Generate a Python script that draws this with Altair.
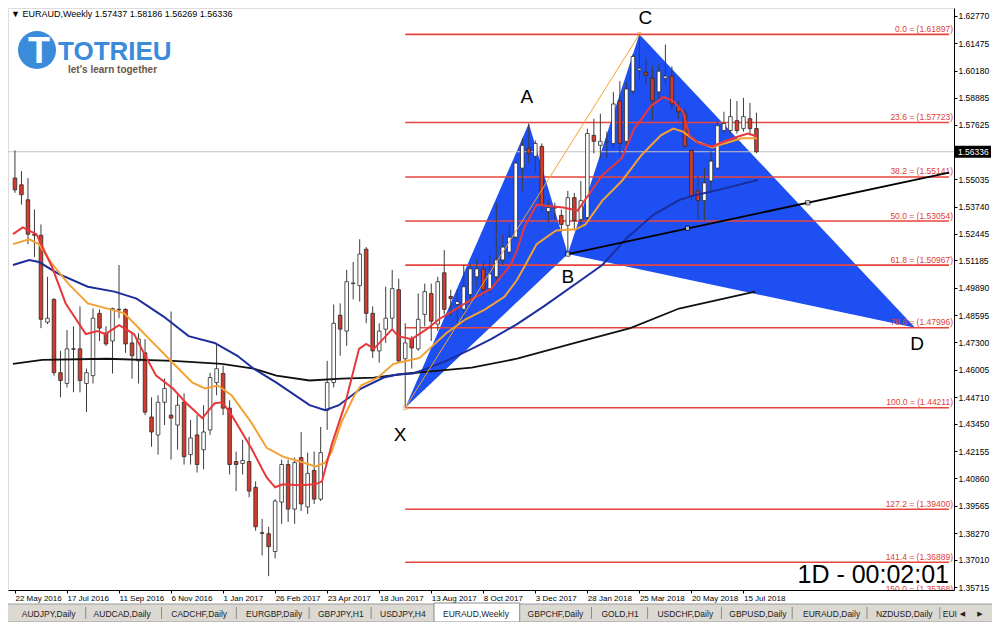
import altair as alt
import pandas as pd

# ------------------------------------------------------------------ data
opens = [1.5509,1.5477,1.5406,1.5243,1.5238,1.4826,1.4934,1.4587,1.4536,1.4700,
 1.4700,1.4536,1.4573,1.4868,1.4774,1.4737,1.4887,1.4887,1.4728,1.4643,
 1.4681,1.4377,1.4292,1.4447,1.4386,1.4339,1.4447,1.4199,1.4292,1.4222,
 1.4316,1.4540,1.4583,1.4419,1.4166,1.4157,1.4166,1.4044,1.3829,1.3824,
 1.3740,1.3974,1.4152,1.3941,1.4185,1.3951,1.4124,1.3988,1.4409,1.4540,
 1.4859,1.4784,1.5009,1.4999,1.5172,1.4868,1.4690,1.4793,1.4845,1.4980,
 1.4653,1.4746,1.4700,1.4863,1.4962,1.4817,1.5060,1.4948,1.4910,1.4887,
 1.4957,1.5041,1.5079,1.4985,1.5041,1.5121,1.5158,1.5229,1.5556,1.5650,
 1.5612,1.5659,1.5350,1.5369,1.5332,1.5285,1.5416,1.5313,1.5322,1.5711,
 1.5664,1.5678,1.5673,1.5874,1.5683,1.5921,1.6020,1.6010,1.5982,1.5917,
 1.5982,1.5992,1.5846,1.5814,1.5640,1.5448,1.5402,1.5495,1.5556,1.5734,
 1.5734,1.5781,1.5743,1.5790,1.57437]
highs = [1.5640,1.5542,1.5509,1.5360,1.5289,1.5041,1.4940,1.4690,1.4789,1.4807,
 1.4901,1.4606,1.4891,1.4887,1.4807,1.4895,1.5097,1.4891,1.4774,1.4774,
 1.4746,1.4470,1.4480,1.4559,1.4877,1.4480,1.4489,1.4363,1.4386,1.4433,
 1.4587,1.4728,1.4620,1.4456,1.4213,1.4269,1.4283,1.4072,1.3894,1.3857,
 1.3988,1.4175,1.4175,1.4185,1.4306,1.4208,1.4213,1.4330,1.4643,1.4910,
 1.4915,1.5074,1.5111,1.5219,1.5182,1.4901,1.4821,1.4994,1.5074,1.5032,
 1.4821,1.4760,1.4962,1.5009,1.5009,1.5041,1.5168,1.4980,1.4980,1.5097,
 1.5102,1.5126,1.5111,1.5144,1.5392,1.5243,1.5289,1.5589,1.5697,1.5767,
 1.5687,1.5673,1.5402,1.5392,1.5360,1.5448,1.5439,1.5495,1.5743,1.5790,
 1.5814,1.5729,1.5917,1.5968,1.5963,1.6095,1.6190,1.6080,1.6038,1.6048,
 1.6141,1.6038,1.5870,1.5837,1.5645,1.5519,1.5556,1.5636,1.5776,1.5823,
 1.5884,1.5874,1.5889,1.5865,1.58186]
lows = [1.5439,1.5383,1.5196,1.5135,1.4798,1.4817,1.4573,1.4470,1.4517,1.4494,
 1.4494,1.4400,1.4536,1.4737,1.4714,1.4583,1.4845,1.4681,1.4559,1.4536,
 1.4386,1.4236,1.4199,1.4339,1.4175,1.4222,1.4152,1.4152,1.4114,1.4129,
 1.4292,1.4480,1.4386,1.4105,1.4026,1.4105,1.3997,1.3838,1.3721,1.3623,
 1.3707,1.3871,1.3880,1.3871,1.3932,1.3918,1.3965,1.3979,1.4316,1.4517,
 1.4667,1.4714,1.4934,1.4924,1.4821,1.4657,1.4634,1.4728,1.4798,1.4634,
 1.4421,1.4606,1.4690,1.4807,1.4737,1.4784,1.4863,1.4854,1.4807,1.4807,
 1.4934,1.4994,1.4948,1.4962,1.5018,1.5097,1.5135,1.5214,1.5448,1.5580,
 1.5533,1.5355,1.5299,1.5313,1.5252,1.5149,1.5261,1.5275,1.5299,1.5626,
 1.5603,1.5603,1.5650,1.5617,1.5659,1.5907,1.5977,1.5954,1.5781,1.5884,
 1.5954,1.5837,1.5790,1.5650,1.5402,1.5313,1.5308,1.5439,1.5547,1.5720,
 1.5720,1.5720,1.5729,1.5711,1.56269]
closes = [1.5453,1.5430,1.5243,1.5238,1.4840,1.4845,1.4587,1.4550,1.4700,1.4698,
 1.4550,1.4587,1.4845,1.4798,1.4723,1.4891,1.4885,1.4723,1.4667,1.4746,
 1.4400,1.4306,1.4447,1.4512,1.4372,1.4433,1.4189,1.4278,1.4152,1.4306,
 1.4564,1.4606,1.4419,1.4152,1.4152,1.4171,1.4026,1.3857,1.3826,1.3763,
 1.3979,1.4152,1.3941,1.4161,1.3965,1.4110,1.3988,1.4208,1.4540,1.4821,
 1.4793,1.5018,1.5012,1.5149,1.4868,1.4690,1.4784,1.4845,1.4985,1.4643,
 1.4728,1.4704,1.4840,1.4971,1.4831,1.5018,1.4887,1.4938,1.4924,1.4994,
 1.5079,1.5079,1.4980,1.5055,1.5121,1.5182,1.5229,1.5580,1.5664,1.5626,
 1.5673,1.5378,1.5369,1.5367,1.5289,1.5416,1.5308,1.5402,1.5720,1.5683,
 1.5683,1.5680,1.5860,1.5673,1.5931,1.6085,1.6029,1.5996,1.5874,1.6015,
 1.5992,1.5860,1.5823,1.5659,1.5425,1.5402,1.5486,1.5589,1.5757,1.5767,
 1.5800,1.5734,1.5800,1.5743,1.56336]

# moving averages: (week index, price)
ma_fast = [(-0.3,1.5243),(1.2,1.5275),(3.3,1.5243),(5.7,1.5088),(7.8,1.4915),(10.9,1.4770),
 (12.7,1.4784),(13.9,1.4770),(16.0,1.4812),(18.3,1.4770),(19.8,1.4681),(21.7,1.4573),
 (24.3,1.4512),(26.2,1.4447),(28.8,1.4372),(30.7,1.4442),(31.9,1.4447),(33.3,1.4386),
 (36.3,1.4231),(38.7,1.4091),(40.0,1.4044),(41.2,1.4058),(43.8,1.4054),(46.2,1.4058),
 (47.2,1.4072),(48.7,1.4246),(50.7,1.4433),(52.9,1.4700),(54.0,1.4723),(55.2,1.4700),
 (58.0,1.4793),(58.9,1.4760),(61.0,1.4746),(63.3,1.4793),(65.2,1.4840),(67.2,1.4877),
 (70.2,1.4934),(73.2,1.4985),(76.2,1.5097),(77.2,1.5168),(78.3,1.5275),(80.2,1.5383),
 (81.7,1.5378),(84.3,1.5369),(86.5,1.5355),(88.2,1.5430),(90.3,1.5523),(93.3,1.5603),
 (95.2,1.5743),(97.8,1.5851),(99.7,1.5893),(101.2,1.5874),(102.7,1.5823),(103.7,1.5711),
 (105.2,1.5673),(107.2,1.5659),(109.1,1.5683),(111.2,1.5706),(112.7,1.5720),(114.1,1.5706)]
ma_mid = [(-0.3,1.5196),(2.2,1.5219),(3.7,1.5196),(5.7,1.5102),(8.2,1.5009),(11.2,1.4915),
 (14.7,1.4887),(16.8,1.4868),(19.2,1.4793),(21.7,1.4714),(24.7,1.4620),(27.3,1.4540),
 (29.2,1.4512),(31.2,1.4526),(33.3,1.4480),(36.3,1.4353),(38.7,1.4231),(41.2,1.4189),
 (43.8,1.4166),(46.2,1.4143),(47.7,1.4161),(48.7,1.4213),(50.2,1.4353),(52.2,1.4480),
 (53.2,1.4526),(55.8,1.4564),(58.2,1.4629),(60.3,1.4643),(62.2,1.4657),(64.2,1.4714),
 (66.3,1.4774),(69.3,1.4840),(72.3,1.4887),(75.3,1.4948),(77.2,1.5027),(78.3,1.5088),
 (80.2,1.5196),(83.2,1.5261),(86.2,1.5266),(87.7,1.5289),(90.3,1.5402),(93.3,1.5495),
 (96.3,1.5617),(99.3,1.5711),(101.2,1.5743),(102.7,1.5729),(104.7,1.5683),(107.2,1.5654),
 (109.1,1.5673),(111.7,1.5697),(114.1,1.5697)]
ma_slow = [(-0.3,1.5097),(2.2,1.5121),(3.7,1.5111),(6.7,1.5055),(11.2,1.4994),(15.3,1.4971),
 (18.7,1.4938),(22.8,1.4854),(26.7,1.4760),(30.7,1.4728),(34.2,1.4667),(36.7,1.4606),
 (40.2,1.4540),(45.3,1.4433),(47.7,1.4409),(49.8,1.4433),(53.2,1.4512),(56.7,1.4564),
 (58.8,1.4578),(61.2,1.4583),(63.3,1.4606),(66.3,1.4643),(70.2,1.4700),(73.2,1.4746),
 (77.2,1.4817),(81.3,1.4901),(87.1,1.5027),(90.3,1.5097),(94.2,1.5229),(98.2,1.5336),
 (102.2,1.5406),(104.2,1.5425),(108.2,1.5453),(114.2,1.5500)]
ma_long = [(-0.3,1.4629),(4.2,1.4648),(14.2,1.4653),(24.3,1.4643),(31.8,1.4629),(36.7,1.4606),
 (40.2,1.4573),(45.3,1.4550),(50.2,1.4559),(55.2,1.4564),(60.3,1.4583),(65.2,1.4597),
 (70.2,1.4611),(77.2,1.4653),(86.1,1.4728),(94.6,1.4798),(102.1,1.4891),(113.8,1.4971)]

# harmonic pattern points (week index, price)
pattern_names = ["X", "A", "B", "C", "D"]
pattern_i = [60, 79, 85, 96, 138.4]
pattern_p = [1.44211, 1.5767, 1.5149, 1.61897, 1.47996]
label_i = [59.2, 78.7, 85.0, 96.9, 138.7]
label_p = [1.4292, 1.5893, 1.5041, 1.6265, 1.4723]

# trend line anchors
trend_i = [85.0, 103.4, 121.9]
trend_p = [1.5149, 1.5271, 1.5392]

fib_pct = ["0.0", "23.6", "38.2", "50.0", "61.8", "78.6", "100.0", "127.2", "141.4", "150.0"]
fib_price = [1.61897, 1.57723, 1.55141, 1.53054, 1.50967, 1.47996, 1.44211, 1.39400, 1.36889, 1.35368]

x_tick_weeks = [0, 8, 16, 24, 32, 40, 48, 56, 64, 72, 80, 88, 96, 104, 112]
x_tick_labels = ["22 May 2016", "17 Jul 2016", "11 Sep 2016", "6 Nov 2016", "1 Jan 2017",
                 "26 Feb 2017", "23 Apr 2017", "18 Jun 2017", "13 Aug 2017", "8 Oct 2017",
                 "3 Dec 2017", "28 Jan 2018", "25 Mar 2018", "20 May 2018", "15 Jul 2018"]
y_ticks = [1.35715, 1.37010, 1.38270, 1.39565, 1.40860, 1.42155, 1.43450, 1.44710, 1.46005,
           1.47300, 1.48595, 1.49890, 1.51185, 1.52445, 1.53740, 1.55035, 1.57625, 1.58885,
           1.60180, 1.61475, 1.62770]
last_price = 1.56336

tab_names = ["AUDJPY,Daily", "AUDCAD,Daily", "CADCHF,Daily", "EURGBP,Daily", "GBPJPY,H1",
             "USDJPY,H4", "EURAUD,Weekly", "GBPCHF,Daily", "GOLD,H1", "USDCHF,Daily",
             "GBPUSD,Daily", "EURAUD,Daily", "NZDUSD,Daily", "EUI"]

# ------------------------------------------------------------------ layout
W, H = 946, 582
I_DOMAIN = [-0.3, 143.6]
P_DOMAIN = [1.35575, 1.63145]
FONT = "Liberation Sans"
BLUE_FILL = "#1d4ff2"

xs = alt.Scale(domain=I_DOMAIN, nice=False, zero=False)
ys = alt.Scale(domain=P_DOMAIN, nice=False, zero=False)

label_js = "[" + ",".join("'%s'" % s for s in x_tick_labels) + "][round(datum.value/8)]"

x_axis = alt.Axis(values=x_tick_weeks, labelExpr=label_js, labelAlign="left",
                  labelBaseline="top", labelPadding=1, tickSize=3, tickColor="black",
                  domainColor="black", labelColor="black", labelFont=FONT, labelFontSize=8,
                  grid=False, labelOverlap=False, labelFlush=False, title=None)
y_axis = alt.Axis(orient="right", values=y_ticks, format=".5f", labelPadding=1,
                  tickSize=3, tickColor="black", domainColor="black", labelColor="black",
                  labelFont=FONT, labelFontSize=8.5, grid=False, labelOverlap=False,
                  labelFlush=False, title=None)


def XE(field):
    return alt.X(field, scale=xs, axis=x_axis)


def YE(field):
    return alt.Y(field, scale=ys, axis=y_axis)


candles = pd.DataFrame({"i": list(range(len(opens))), "o": opens, "h": highs,
                        "l": lows, "c": closes})


# triangles XAB and BCD as areas between two edges
def tri_rows(name, a, b, c):
    (i1, p1), (i2, p2), (i3, p3) = a, b, c
    base_mid = p1 + (p3 - p1) * (i2 - i1) / (i3 - i1)
    return [dict(shape=name, i=i1, top=p1, bot=p1),
            dict(shape=name, i=i2, top=p2, bot=base_mid),
            dict(shape=name, i=i3, top=p3, bot=p3)]


pts = list(zip(pattern_i, pattern_p))
tri_df = pd.DataFrame(tri_rows("XAB", pts[0], pts[1], pts[2]) +
                      tri_rows("BCD", pts[2], pts[3], pts[4]))

triangles = alt.Chart(tri_df).mark_area(color=BLUE_FILL, opacity=1, clip=True).encode(
    x=XE("i:Q"), y=YE("top:Q"), y2="bot:Q", detail="shape:N")

fib_df = pd.DataFrame({"price": fib_price,
                       "label": ["%s = (%.5f)" % (a, b) for a, b in zip(fib_pct, fib_price)],
                       "i0": [pattern_i[0]] * len(fib_price),
                       "i1": [I_DOMAIN[1]] * len(fib_price)})
fib_lines = alt.Chart(fib_df).mark_rule(color="#e8453c", strokeWidth=1.6, clip=True).encode(
    x=XE("i0:Q"), x2="i1:Q", y=YE("price:Q"))
fib_text = alt.Chart(fib_df).mark_text(align="right", baseline="alphabetic", dy=-2.5,
                                       font=FONT, fontSize=8.5, color="#e0403a",
                                       clip=True).encode(
    x=alt.value(W - 1), y=YE("price:Q"), text="label:N")

bid_df = pd.DataFrame({"price": [last_price]})
bid_line = alt.Chart(bid_df).mark_rule(color="#c4c4c4", strokeWidth=1).encode(
    x=alt.value(0), x2=alt.value(W), y=YE("price:Q"))

wicks = alt.Chart(candles).mark_rule(color="#3c3c3c", strokeWidth=1, clip=True).encode(
    x=XE("i:Q"), y=YE("l:Q"), y2="h:Q")
bodies = alt.Chart(candles).mark_bar(size=3.6, stroke="#2a2a2a", strokeWidth=0.8,
                                     clip=True).encode(
    x=XE("i:Q"), y=YE("o:Q"), y2="c:Q",
    fill=alt.condition("datum.c >= datum.o", alt.value("white"), alt.value("#d33b2c")))


def ma_layer(points, color, width):
    df = pd.DataFrame(points, columns=["i", "p"])
    return alt.Chart(df).mark_line(color=color, strokeWidth=width, clip=True).encode(
        x=XE("i:Q"), y=YE("p:Q"), order="i:Q")


ma_layers = [ma_layer(ma_long, "#111111", 1.8), ma_layer(ma_slow, "#1c2d9c", 2.0),
             ma_layer(ma_mid, "#f4a133", 2.0), ma_layer(ma_fast, "#e8383a", 2.0)]

# trend line from B through its anchors, carried on to the right edge
slope = (trend_p[-1] - trend_p[0]) / (trend_i[-1] - trend_i[0])
trend_df = pd.DataFrame({"i": [trend_i[0], I_DOMAIN[1]],
                         "p": [trend_p[0], trend_p[0] + slope * (I_DOMAIN[1] - trend_i[0])]})
trend_line = alt.Chart(trend_df).mark_line(color="#000000", strokeWidth=1.8, clip=True).encode(
    x=XE("i:Q"), y=YE("p:Q"))
trend_marks = alt.Chart(pd.DataFrame({"i": trend_i, "p": trend_p})).mark_square(
    size=18, filled=True, fill="white", stroke="black", strokeWidth=1, clip=True).encode(
    x=XE("i:Q"), y=YE("p:Q"))

xc_df = pd.DataFrame({"i": [pattern_i[0], pattern_i[3]], "p": [pattern_p[0], pattern_p[3]]})
xc_line = alt.Chart(xc_df).mark_line(color="#f4a133", strokeWidth=1, clip=True).encode(
    x=XE("i:Q"), y=YE("p:Q"))
xc_marks = alt.Chart(xc_df).mark_square(size=14, filled=False, color="#f4a133",
                                        strokeWidth=1, clip=True).encode(
    x=XE("i:Q"), y=YE("p:Q"))

letters = alt.Chart(pd.DataFrame({"i": label_i, "p": label_p, "t": pattern_names})).mark_text(
    font=FONT, fontSize=19, color="black", align="center", baseline="middle").encode(
    x=XE("i:Q"), y=YE("p:Q"), text="t:N")

tag_df = pd.DataFrame({"top": [last_price + 0.0028], "bot": [last_price - 0.0028],
                       "p": [last_price], "t": ["%.5f" % last_price]})
tag_box = alt.Chart(tag_df).mark_rect(color="black", clip=False).encode(
    x=alt.value(W + 1), x2=alt.value(W + 37), y=YE("top:Q"), y2="bot:Q")
tag_text = alt.Chart(tag_df).mark_text(align="left", baseline="middle", font=FONT,
                                       fontSize=8.5, color="white", clip=False).encode(
    x=alt.value(W + 4), y=YE("p:Q"), text="t:N")

data_part = alt.layer(triangles, fib_lines, fib_text, bid_line, wicks, bodies,
                      *ma_layers, xc_line, xc_marks, trend_line, trend_marks, letters,
                      tag_box, tag_text)

# ------------------------------------------------------------------ window chrome (pixels)
PX = dict(scale=None, axis=None)


def ptext(rows, **mk):
    df = pd.DataFrame(rows, columns=["px", "py", "t"])
    return alt.Chart(df).mark_text(**mk).encode(
        x=alt.X("px:Q", **PX), y=alt.Y("py:Q", **PX), text="t:N")


header = ptext([(3, 9, "\u25bc EURAUD,Weekly  1.57437 1.58186 1.56269 1.56336")],
               align="left", baseline="alphabetic", font=FONT, fontSize=9, color="black")

logo_circle = alt.Chart(pd.DataFrame({"px": [29], "py": [42]})).mark_point(
    shape="circle", filled=True, size=1450, color="#3b8bdb", opacity=1).encode(
    x=alt.X("px:Q", **PX), y=alt.Y("py:Q", **PX))
logo_T = ptext([(31, 55, "T")], align="center", baseline="alphabetic",
               font=FONT, fontWeight="bold", fontSize=36, color="white")
logo_name = ptext([(50, 52, "TOTRIEU")], align="left", baseline="alphabetic",
                  font=FONT, fontWeight="bold", fontSize=26, color="#3b8bdb")
logo_tag = ptext([(60, 65, "let's learn together")], align="left", baseline="alphabetic",
                 font=FONT, fontWeight="bold", fontSize=10, color="#6b5646")

clock = ptext([(W - 5, H - 7, "1D - 00:02:01")], align="right", baseline="alphabetic",
              font=FONT, fontSize=25, color="black")

TB0, TB1 = H + 14, H + 32
tab_bar = alt.Chart(pd.DataFrame({"x0": [-8], "x1": [W + 40], "y0": [TB0], "y1": [TB1]})).mark_rect(
    color="#dcd9d2", stroke="#9a9a9a", strokeWidth=1, clip=False).encode(
    x=alt.X("x0:Q", **PX), x2="x1:Q", y=alt.Y("y0:Q", **PX), y2="y1:Q")
tab_active = alt.Chart(pd.DataFrame({"x0": [426], "x1": [511.7], "y0": [TB0 - 1], "y1": [TB1]})).mark_rect(
    color="white", stroke="#8a8a8a", strokeWidth=1, clip=False).encode(
    x=alt.X("x0:Q", **PX), x2="x1:Q", y=alt.Y("y0:Q", **PX), y2="y1:Q")
sep_x = [77.7, 153.5, 228.3, 301.1, 363.1, 583.5, 639.6, 713.4, 784.2, 859.0, 931.8]
tab_seps = alt.Chart(pd.DataFrame({"px": sep_x, "y0": [TB0 + 3] * len(sep_x),
                                   "y1": [TB1 - 3] * len(sep_x)})).mark_rule(
    color="#8c8c8c", strokeWidth=1).encode(
    x=alt.X("px:Q", **PX), y=alt.Y("y0:Q", **PX), y2="y1:Q")
tab_x = [13.8, 85.6, 163.3, 238.1, 310.0, 372.0, 435.0, 519.6, 593.4, 649.4, 721.3,
         795.0, 867.9, 934.8]
tab_texts = ptext([(x, TB1 - 5, n) for x, n in zip(tab_x, tab_names)], align="left",
                  baseline="alphabetic", font=FONT, fontSize=8.5, color="#222222")
tab_arrows = ptext([(954.5, TB1 - 6, "\u25c0"), (972, TB1 - 6, "\u25b6")], align="center",
                   baseline="alphabetic", font="DejaVu Sans", fontSize=7, color="#222222")

chrome = alt.layer(header, logo_circle, logo_T, logo_name, logo_tag, clock, tab_bar,
                   tab_active, tab_seps, tab_texts, tab_arrows)

chart = alt.layer(data_part, chrome).resolve_scale(x="independent", y="independent").properties(
    width=W, height=H,
    autosize=alt.AutoSizeParams(type="none"),
    padding={"left": 0, "top": 0, "right": 38, "bottom": 32},
).configure_view(stroke="#000000", strokeWidth=1).configure(background="white")

chart.save("out.html", embed_options={"renderer": "svg", "actions": False})
